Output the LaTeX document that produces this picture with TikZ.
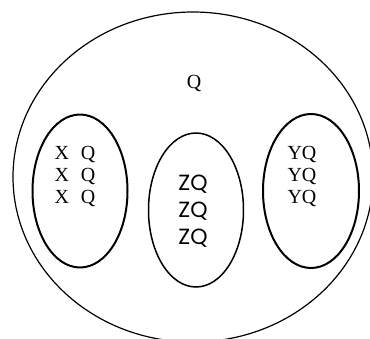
\documentclass[tikz,border=0pt]{standalone}
\usepackage{fontspec}
\setmainfont{Liberation Serif}
\newfontfamily\zfont{Poppins}
\usetikzlibrary{shapes.geometric}
\begin{document}
\begin{tikzpicture}[x=1pt,y=-1pt,
  blob/.style={draw, ellipse, inner sep=0pt, outer sep=0pt},
  lbl/.style={font=\fontsize{20}{22}\selectfont, inner sep=0pt, align=left}]
\useasboundingbox (0,0) rectangle (370,338);
\clip (0,0) rectangle (370,338);
\node[blob, line width=1.2pt, minimum width=360pt, minimum height=330pt] (outer) at (193,177) {};
\node[blob, line width=2pt, minimum width=95pt, minimum height=153pt] (left) at (80,191) {};
\node[blob, line width=1.5pt, minimum width=95pt, minimum height=154pt] (mid) at (196,210) {};
\node[blob, line width=2pt, minimum width=96pt, minimum height=154pt] (right) at (311,191) {};
\node[lbl] (q) at (194,83) {Q};
\node[lbl] (xq) at (75,176) {X\hspace{12pt}Q\\X\hspace{12pt}Q\\X\hspace{12pt}Q};
\node[lbl] (yq) at (302,176) {YQ\\YQ\\YQ};
\node[lbl, font=\zfont\fontsize{22}{27}\selectfont] (zq) at (193,211) {ZQ\\ZQ\\ZQ};
\end{tikzpicture}
\end{document}
